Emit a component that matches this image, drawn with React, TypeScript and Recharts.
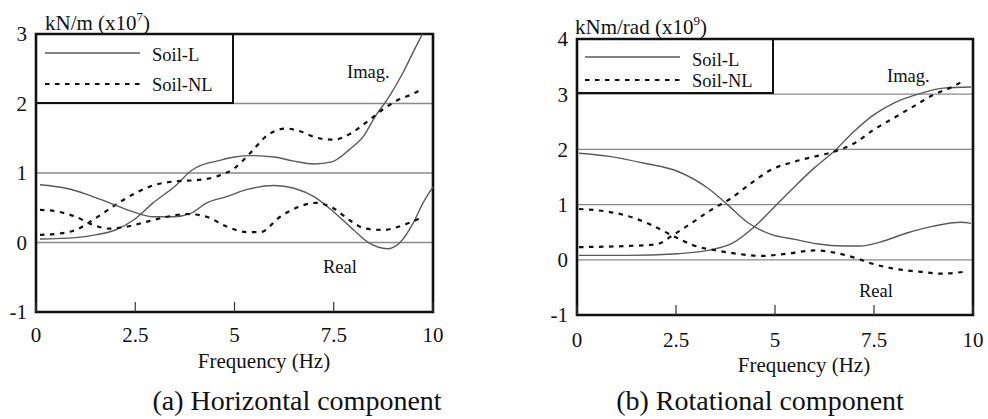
import React from 'react';
import { LineChart, Line, XAxis, YAxis, CartesianGrid, ReferenceArea, Legend } from 'recharts';

const SERIF = 'Liberation Serif';

// Frequency ticks shared by both panels
const FREQ_TICKS = [0, 2.5, 5, 7.5, 10];
const H_Y_TICKS = [-1, 0, 1, 2, 3];
const R_Y_TICKS = [-1, 0, 1, 2, 3, 4];

// (a) Horizontal component (x10^7 kN/m)
const hImagLFreq = [0.1, 1.0, 1.5, 2.0, 2.45, 2.95, 3.5, 3.95, 4.2, 4.55, 5.0, 5.45, 6.0, 6.5, 7.0, 7.45, 7.9, 8.25, 8.55, 8.85, 9.25, 9.5, 9.75];
const hImagLVal = [0.05, 0.07, 0.11, 0.18, 0.32, 0.57, 0.81, 1.05, 1.12, 1.17, 1.23, 1.25, 1.23, 1.17, 1.13, 1.16, 1.34, 1.53, 1.82, 2.06, 2.45, 2.74, 3.02];
const hImagNLFreq = [0.1, 0.6, 1.0, 1.5, 2.0, 2.5, 3.0, 3.5, 4.1, 4.55, 5.0, 5.4, 5.8, 6.3, 6.65, 7.05, 7.5, 7.9, 8.3, 8.75, 9.15, 9.5, 9.75];
const hImagNLVal = [0.11, 0.13, 0.18, 0.35, 0.54, 0.71, 0.83, 0.88, 0.9, 0.95, 1.07, 1.29, 1.53, 1.64, 1.6, 1.51, 1.48, 1.56, 1.72, 1.92, 2.06, 2.14, 2.22];
const hRealLFreq = [0.1, 0.75, 1.3, 1.85, 2.45, 2.95, 3.45, 3.9, 4.3, 4.8, 5.3, 6.0, 6.5, 7.0, 7.5, 8.0, 8.4, 8.85, 9.15, 9.5, 9.75, 10];
const hRealLVal = [0.83, 0.78, 0.69, 0.57, 0.44, 0.37, 0.37, 0.42, 0.57, 0.66, 0.76, 0.82, 0.78, 0.66, 0.44, 0.18, -0.01, -0.09, -0.01, 0.28, 0.57, 0.8];
const hRealNLFreq = [0.1, 0.5, 1.0, 1.45, 1.85, 2.3, 2.8, 3.3, 3.8, 4.3, 4.8, 5.3, 5.65, 6.15, 6.65, 7.05, 7.5, 7.9, 8.3, 8.75, 9.15, 9.75];
const hRealNLVal = [0.47, 0.45, 0.37, 0.25, 0.2, 0.23, 0.3, 0.37, 0.41, 0.37, 0.23, 0.15, 0.15, 0.37, 0.52, 0.57, 0.49, 0.32, 0.2, 0.18, 0.23, 0.37];

// (b) Rotational component (x10^9 kNm/rad)
const rImagLFreq = [0.05, 1.25, 2.55, 3.3, 3.95, 4.45, 5.0, 5.5, 6.0, 6.5, 7.0, 7.5, 8.0, 8.7, 9.25, 9.95];
const rImagLVal = [0.08, 0.08, 0.11, 0.17, 0.31, 0.58, 0.97, 1.33, 1.67, 1.97, 2.33, 2.63, 2.84, 3.02, 3.11, 3.13];
const rImagNLFreq = [0.05, 1.25, 2.0, 2.45, 2.9, 3.4, 3.9, 4.4, 4.9, 5.5, 6.0, 6.5, 7.0, 7.5, 8.0, 8.5, 9.0, 9.5, 9.75];
const rImagNLVal = [0.23, 0.25, 0.28, 0.46, 0.67, 0.91, 1.12, 1.39, 1.63, 1.78, 1.87, 1.96, 2.11, 2.36, 2.57, 2.78, 2.99, 3.14, 3.24];
const rRealLFreq = [0.05, 0.85, 1.7, 2.55, 3.3, 3.8, 4.3, 4.9, 5.5, 6.05, 6.75, 7.15, 7.65, 8.35, 9.0, 9.7, 9.95];
const rRealLVal = [1.93, 1.87, 1.75, 1.6, 1.3, 1.0, 0.68, 0.46, 0.37, 0.29, 0.25, 0.25, 0.32, 0.49, 0.61, 0.68, 0.66];
const rRealNLFreq = [0.05, 0.7, 1.3, 1.85, 2.35, 2.95, 3.6, 4.15, 4.65, 5.3, 6.0, 6.5, 7.0, 7.5, 8.0, 8.7, 9.2, 9.75];
const rRealNLVal = [0.92, 0.88, 0.79, 0.64, 0.46, 0.26, 0.16, 0.1, 0.07, 0.11, 0.17, 0.13, 0.04, -0.08, -0.16, -0.22, -0.25, -0.22];

const LEGEND_NAMES = ['Soil-L', 'Soil-NL'];

const zip = (f: number[], v: number[]) => f.map((x, i) => ({ f: x, v: v[i] }));

const SOLID = { stroke: '#5a5a5a', strokeWidth: 1.4, strokeDasharray: undefined as string | undefined };
const DASHED = { stroke: '#111', strokeWidth: 2.2, strokeDasharray: '4.5 5.5' };

type Series = { key: string; name?: string; data: { f: number; v: number }[]; style: typeof SOLID };

const hSeries: Series[] = [
  { key: 'hil', name: LEGEND_NAMES[0], data: zip(hImagLFreq, hImagLVal), style: SOLID },
  { key: 'hinl', name: LEGEND_NAMES[1], data: zip(hImagNLFreq, hImagNLVal), style: DASHED },
  { key: 'hrl', data: zip(hRealLFreq, hRealLVal), style: SOLID },
  { key: 'hrnl', data: zip(hRealNLFreq, hRealNLVal), style: DASHED },
];
const rSeries: Series[] = [
  { key: 'ril', name: LEGEND_NAMES[0], data: zip(rImagLFreq, rImagLVal), style: SOLID },
  { key: 'rinl', name: LEGEND_NAMES[1], data: zip(rImagNLFreq, rImagNLVal), style: DASHED },
  { key: 'rrl', data: zip(rRealLFreq, rRealLVal), style: SOLID },
  { key: 'rrnl', data: zip(rRealNLFreq, rRealNLVal), style: DASHED },
];

type LegendGeom = { w: number; h: number; lineX1: number; lineX2: number; textX: number; rows: { lineY: number; textY: number }[] };

function makeLegendContent(g: LegendGeom) {
  return (props: any) => {
    const payload = (props.payload || []).filter((p: any) => p.type !== 'none');
    return (
      <div style={{ width: g.w, height: g.h, boxSizing: 'border-box', borderRight: '2px solid #111', borderBottom: '2px solid #111', background: 'transparent' }}>
        <svg width={g.w} height={g.h} style={{ display: 'block' }}>
          {payload.map((p: any, i: number) => {
            const st = p.value === LEGEND_NAMES[1] ? DASHED : SOLID;
            const row = g.rows[i];
            if (!row) return null;
            return (
              <g key={p.value}>
                <line x1={g.lineX1} x2={g.lineX2} y1={row.lineY} y2={row.lineY} stroke={st.stroke} strokeWidth={st === DASHED ? 2 : 1.3} strokeDasharray={st.strokeDasharray} />
                <text x={g.textX} y={row.textY} fontFamily={SERIF} fontSize={18.5} fill="#111">{p.value}</text>
              </g>
            );
          })}
        </svg>
      </div>
    );
  };
}

type PanelProps = {
  series: Series[];
  yDomain: [number, number];
  yTicks: number[];
  margin: { top: number; right: number; bottom: number; left: number };
  xTickMargin: number;
  legendBox: { left: number; top: number };
  legendGeom: LegendGeom;
};

function Panel({ series, yDomain, yTicks, margin, xTickMargin, legendBox, legendGeom }: PanelProps) {
  const tickStyle = { fontSize: 21, fill: '#111', fontFamily: SERIF };
  const tickLineStyle = { stroke: '#333', strokeWidth: 1.2 };
  return (
    <LineChart width={494} height={419} margin={margin}>
      <CartesianGrid horizontal vertical={false} stroke="#8a8a8a" strokeWidth={1.3} />
      <XAxis
        type="number"
        dataKey="f"
        domain={[0, 10]}
        ticks={FREQ_TICKS}
        interval={0}
        tickSize={-10}
        tickMargin={xTickMargin}
        axisLine={false}
        tickLine={tickLineStyle}
        tick={tickStyle}
        height={30}
        tickFormatter={(v: number) => String(v)}
      />
      <XAxis
        xAxisId="t"
        orientation="top"
        type="number"
        dataKey="f"
        domain={[0, 10]}
        ticks={FREQ_TICKS}
        interval={0}
        tickSize={-10}
        axisLine={false}
        tickLine={tickLineStyle}
        tickFormatter={() => ''}
        height={0}
      />
      <YAxis
        type="number"
        domain={yDomain}
        ticks={yTicks}
        interval={0}
        allowDataOverflow
        width={36}
        axisLine={false}
        tickLine={false}
        tickMargin={3}
        tick={tickStyle}
      />
      {series.map((s) => (
        <Line
          key={s.key}
          data={s.data}
          dataKey="v"
          name={s.name ?? s.key}
          legendType={s.name ? 'line' : 'none'}
          type="monotone"
          stroke={s.style.stroke}
          strokeWidth={s.style.strokeWidth}
          strokeDasharray={s.style.strokeDasharray}
          dot={false}
          activeDot={false}
          isAnimationActive={false}
        />
      ))}
      <ReferenceArea x1={0} x2={10} y1={yDomain[0]} y2={yDomain[1]} fill="none" stroke="#111" strokeWidth={2.6} ifOverflow="visible" />
      <Legend
        layout="vertical"
        align="center"
        verticalAlign="middle"
        wrapperStyle={{ position: 'absolute', left: legendBox.left, top: legendBox.top, width: legendGeom.w, height: legendGeom.h, margin: 0, padding: 0 }}
        content={makeLegendContent(legendGeom)}
      />
    </LineChart>
  );
}

export default function App() {
  const txt = { fontFamily: SERIF, fill: '#111' };
  return (
    <div style={{ position: 'absolute', left: 0, top: 0, width: 988, height: 419, background: '#fff', overflow: 'hidden' }}>
      <div style={{ position: 'absolute', left: 0, top: 0 }}>
        <Panel
          series={hSeries}
          yDomain={[-1, 3]}
          yTicks={H_Y_TICKS}
          margin={{ top: 34, right: 61, bottom: 77, left: 0 }}
          xTickMargin={25}
          legendBox={{ left: 36, top: 34 }}
          legendGeom={{ w: 198, h: 70, lineX1: 9, lineX2: 104, textX: 116, rows: [{ lineY: 19, textY: 27 }, { lineY: 50, textY: 57 }] }}
        />
      </div>
      <div style={{ position: 'absolute', left: 494, top: 0 }}>
        <Panel
          series={rSeries}
          yDomain={[-1, 4]}
          yTicks={R_Y_TICKS}
          margin={{ top: 39, right: 15, bottom: 74, left: 47 }}
          xTickMargin={27}
          legendBox={{ left: 83, top: 39 }}
          legendGeom={{ w: 197, h: 55, lineX1: 8, lineX2: 103, textX: 115, rows: [{ lineY: 18, textY: 27 }, { lineY: 41, textY: 48 }] }}
        />
      </div>
      <svg width={988} height={419} style={{ position: 'absolute', left: 0, top: 0, pointerEvents: 'none' }}>
        {/* panel (a) */}
        <text x={45} y={30} fontSize={21} {...txt}>
          kN/m (x10<tspan fontSize={13} dy={-9}>7</tspan><tspan dy={9}>)</tspan>
        </text>
        <text x={347} y={78} fontSize={18.5} {...txt}>Imag.</text>
        <text x={323} y={273} fontSize={18.5} {...txt}>Real</text>
        <text x={264} y={368} fontSize={21} textAnchor="middle" {...txt}>Frequency (Hz)</text>
        <text x={297} y={410} fontSize={28} textAnchor="middle" {...txt}>(a) Horizontal component</text>
        {/* panel (b) */}
        <text x={575} y={34} fontSize={21} {...txt}>
          kNm/rad (x10<tspan fontSize={13} dy={-9}>9</tspan><tspan dy={9}>)</tspan>
        </text>
        <text x={887} y={82} fontSize={18.5} {...txt}>Imag.</text>
        <text x={859} y={297} fontSize={18.5} {...txt}>Real</text>
        <text x={804} y={372} fontSize={21} textAnchor="middle" {...txt}>Frequency (Hz)</text>
        <text x={760} y={410} fontSize={28} textAnchor="middle" {...txt}>(b) Rotational component</text>
      </svg>
    </div>
  );
}
